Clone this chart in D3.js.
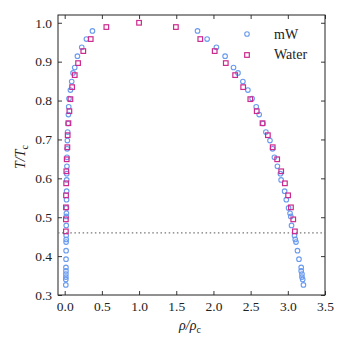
<!DOCTYPE html>
<html>
<head>
<meta charset="utf-8">
<script src="https://cdn.jsdelivr.net/npm/d3@7"></script>
<style>
  body { margin: 0; background: white; }
  text { font-family: "Liberation Serif", serif; fill: #222; }
</style>
</head>
<body>
<div id="chart"></div>
<script>
// coexistence curve, reduced units

// mW model (circles)
var mwT    = [0.979,0.958,0.937,0.914,0.885,0.871,0.849,0.827,0.805,0.784,0.764,0.741,0.719,0.697,0.676,0.654,0.631,0.612,0.596,0.567,0.545,0.524,0.510,0.502,0.479,0.453,0.443,0.436,0.414,0.392,0.371,0.362,0.354,0.346,0.340,0.326];
var mwRhoV = [0.373,0.292,0.229,0.171,0.135,0.112,0.094,0.077,0.058,0.054,0.050,0.045,0.040,0.036,0.033,0.031,0.030,0.028,0.027,0.026,0.025,0.024,0.023,0.022,0.021,0.020,0.020,0.019,0.019,0.018,0.017,0.017,0.016,0.016,0.015,0.015];
var mwRhoL = [1.786,1.915,2.040,2.157,2.270,2.330,2.396,2.463,2.520,2.575,2.615,2.665,2.705,2.760,2.795,2.820,2.860,2.900,2.910,2.957,2.980,3.010,3.030,3.040,3.050,3.090,3.100,3.110,3.130,3.150,3.180,3.180,3.190,3.190,3.200,3.210];

// Water (squares), 300 K ... 640 K plus critical point
var waterT    = [0.4636,0.4945,0.5254,0.5563,0.5872,0.6181,0.6490,0.6800,0.7109,0.7418,0.7727,0.8036,0.8345,0.8654,0.8963,0.9272,0.9581,0.9890,1.0];
var waterRhoV = [0.016,0.016,0.017,0.018,0.020,0.022,0.027,0.036,0.040,0.050,0.063,0.077,0.100,0.135,0.180,0.250,0.350,0.560,1.0];
var waterRhoL = [3.095,3.073,3.042,3.004,2.961,2.911,2.857,2.797,2.732,2.660,2.582,2.496,2.400,2.292,2.166,2.017,1.823,1.495,1.0];

var xTicks = [0,0.5,1.0,1.5,2.0,2.5,3.0,3.5];
var yTicks = [0.3,0.4,0.5,0.6,0.7,0.8,0.9,1.0];
var lineT = 0.46;

var W = 349, H = 349;
var pl = 58, pr = 325, pt = 15, pb = 295;
var blue = "#6a9bee", pink = "#cc2a8e";

var svg = d3.select("#chart").append("svg").attr("width", W).attr("height", H);

var x = d3.scaleLinear().domain([-0.09, 3.5]).range([pl, pr]);
var y = d3.scaleLinear().domain([0.3, 1.02]).range([pb, pt]);

function styleAxis(g){
  g.select(".domain").remove();
  g.selectAll(".tick line").attr("stroke", "#222").attr("stroke-width", 0.9);
  g.selectAll(".tick text").style("font-family", "Liberation Serif, serif").style("font-size", "13.5px").attr("fill", "#222");
}

svg.append("g").attr("transform", "translate(0," + pb + ")")
  .call(d3.axisBottom(x).tickValues(xTicks).tickFormat(d3.format(".1f")).tickSizeInner(-4).tickSizeOuter(0).tickPadding(6))
  .call(styleAxis);
svg.append("g").attr("transform", "translate(0," + pt + ")")
  .call(d3.axisTop(x).tickValues(xTicks).tickFormat("").tickSizeInner(-4).tickSizeOuter(0))
  .call(styleAxis);
svg.append("g").attr("transform", "translate(" + pl + ",0)")
  .call(d3.axisLeft(y).tickValues(yTicks).tickFormat(d3.format(".1f")).tickSizeInner(-4).tickSizeOuter(0).tickPadding(6))
  .call(styleAxis);
svg.append("g").attr("transform", "translate(" + pr + ",0)")
  .call(d3.axisRight(y).tickValues(yTicks).tickFormat("").tickSizeInner(-4).tickSizeOuter(0))
  .call(styleAxis);

// frame
svg.append("rect").attr("x", pl).attr("y", pt).attr("width", pr - pl).attr("height", pb - pt)
  .attr("fill", "none").attr("stroke", "#222").attr("stroke-width", 1);

// dotted reference line
svg.append("line").attr("x1", pl).attr("x2", pr).attr("y1", y(lineT)).attr("y2", y(lineT))
  .attr("stroke", "#777").attr("stroke-width", 1.3).attr("stroke-dasharray", "1.5,2.6");

// mW points
var mwPts = [];
mwT.forEach(function(t, i){ mwPts.push([mwRhoV[i], t]); mwPts.push([mwRhoL[i], t]); });
svg.append("g").selectAll("circle").data(mwPts).enter().append("circle")
  .attr("cx", function(d){ return x(d[0]); })
  .attr("cy", function(d){ return y(d[1]); })
  .attr("r", 2.3)
  .attr("fill", "none").attr("stroke", blue).attr("stroke-width", 1.1);

// Water points
var wPts = [];
waterT.forEach(function(t, i){ wPts.push([waterRhoV[i], t]); if(waterRhoL[i] !== waterRhoV[i]) wPts.push([waterRhoL[i], t]); });
var s = 4.6;
svg.append("g").selectAll("rect").data(wPts).enter().append("rect")
  .attr("x", function(d){ return x(d[0]) - s/2; })
  .attr("y", function(d){ return y(d[1]) - s/2; })
  .attr("width", s).attr("height", s)
  .attr("fill", "none").attr("stroke", pink).attr("stroke-width", 1.2);

// legend
svg.append("circle").attr("cx", 247).attr("cy", 34).attr("r", 2.3).attr("fill", "none").attr("stroke", blue).attr("stroke-width", 1.1);
svg.append("rect").attr("x", 247 - s/2).attr("y", 55 - s/2).attr("width", s).attr("height", s).attr("fill", "none").attr("stroke", pink).attr("stroke-width", 1.2);
svg.append("text").attr("x", 274).attr("y", 39).style("font-size", "14px").text("mW");
svg.append("text").attr("x", 274).attr("y", 59).style("font-size", "14px").text("Water");

// axis labels
var xl = svg.append("text").attr("x", 190).attr("y", 330).attr("text-anchor", "middle").style("font-size", "14px");
xl.append("tspan").style("font-style", "italic").text("ρ/ρ");
xl.append("tspan").attr("dy", 3).style("font-size", "10px").text("c");

var yl = svg.append("text").attr("transform", "translate(25,157)rotate(-90)").attr("text-anchor", "middle").style("font-size", "14px");
yl.append("tspan").style("font-style", "italic").text("T/T");
yl.append("tspan").attr("dy", 3).style("font-size", "10px").text("c");
</script>
</body>
</html>
